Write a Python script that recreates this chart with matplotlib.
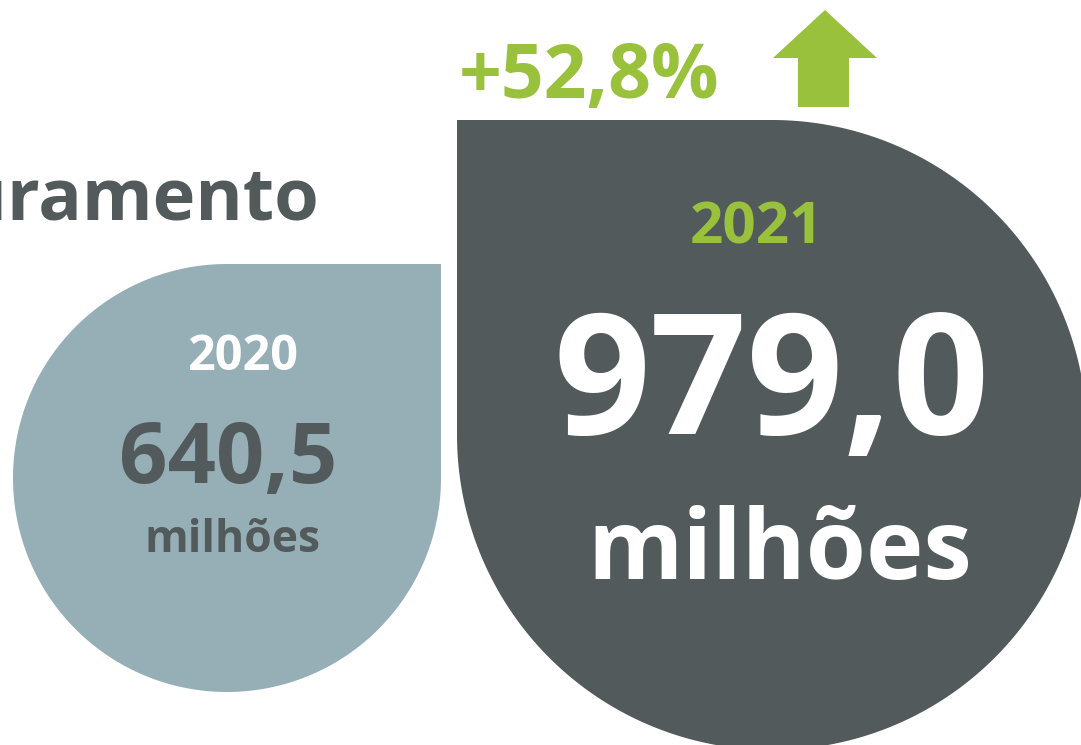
import numpy as np
import matplotlib.pyplot as plt
from matplotlib.patches import Polygon

# dados
anos = ["2020", "2021"]
valores = [640.5, 979.0]
crescimento = 52.8
titulo = "Faturamento"

VERDE = "#99c13c"
CINZA = "#525a5c"
AZUL = "#96afb6"
FONTE = "Open Sans"

def fmt(v):
    return f"{v:.1f}".replace(".", ",")

def gota(cx, cy, r, canto):
    # circulo com um quadrante substituido por um canto quadrado
    # canto: "tr" (topo direita) ou "tl" (topo esquerda); y cresce para baixo
    if canto == "tr":
        pts = [(cx, cy - r), (cx + r, cy - r), (cx + r, cy)]
        t = np.linspace(0, 1.5 * np.pi, 200)
        pts += list(zip(cx + r * np.cos(t), cy + r * np.sin(t)))
    else:
        pts = [(cx + r, cy), ]
        t = np.linspace(0, np.pi, 200)
        pts += list(zip(cx + r * np.cos(t), cy + r * np.sin(t)))
        pts += [(cx - r, cy - r)]
        t = np.linspace(1.5 * np.pi, 2 * np.pi, 100)
        pts += list(zip(cx + r * np.cos(t), cy + r * np.sin(t)))
    return Polygon(pts, closed=True, lw=0)

fig = plt.figure(figsize=(10.81, 7.45), dpi=100)
ax = fig.add_axes([0, 0, 1, 1])
ax.set_xlim(0, 1081)
ax.set_ylim(745, 0)
ax.axis("off")

# formas
p1 = gota(227, 478, 214, "tr")
p1.set_facecolor(AZUL)
ax.add_patch(p1)
p2 = gota(772, 435, 315, "tl")
p2.set_facecolor(CINZA)
ax.add_patch(p2)

# seta
seta = [(798, 107), (798, 58), (773, 58), (825, 10), (877, 58), (849, 58), (849, 107)]
ax.add_patch(Polygon(seta, closed=True, facecolor=VERDE, lw=0))

# textos
ax.text(319, 200, titulo, ha="right", va="center", fontsize=52,
        fontweight="bold", color=CINZA, family=FONTE)
ax.text(589, 78, f"+{fmt(crescimento)}%", ha="center", va="center", fontsize=54,
        fontweight="bold", color=VERDE, family=FONTE)

ax.text(243, 357, anos[0], ha="center", va="center", fontsize=35,
        fontweight="bold", color="white", family=FONTE)
ax.text(228, 461, fmt(valores[0]), ha="center", va="center", fontsize=61,
        fontweight="bold", color=CINZA, family=FONTE)
ax.text(233, 540, "milhões", ha="center", va="center", fontsize=32,
        fontweight="bold", color=CINZA, family=FONTE)

ax.text(756, 228, anos[1], ha="center", va="center", fontsize=42,
        fontweight="bold", color=VERDE, family=FONTE)
ax.text(772, 390, fmt(valores[1]), ha="center", va="center", fontsize=122,
        fontweight="bold", color="white", family=FONTE)
ax.text(780, 553, "milhões", ha="center", va="center", fontsize=70,
        fontweight="bold", color="white", family=FONTE)

fig.savefig("out.png", dpi=100)
